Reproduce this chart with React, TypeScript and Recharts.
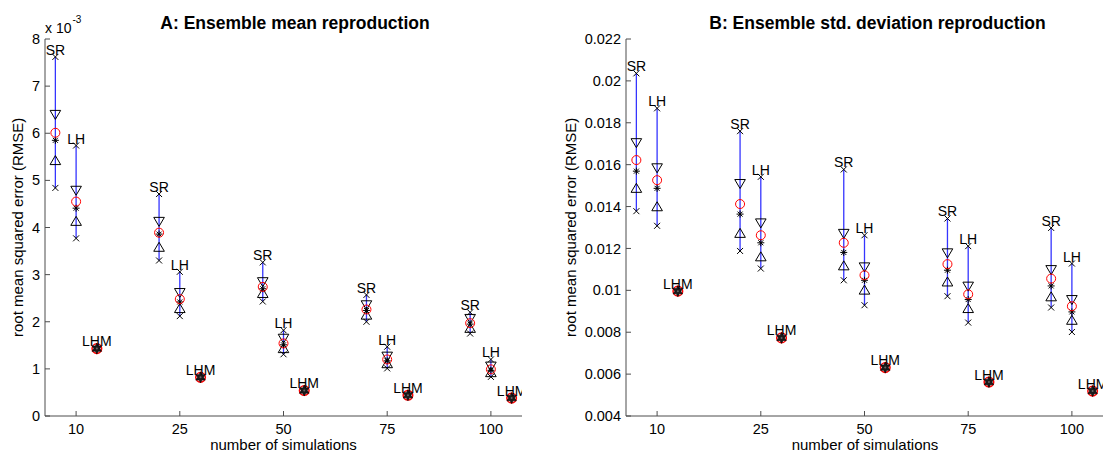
import React from 'react';
import { ComposedChart, XAxis, YAxis, Scatter, ReferenceLine } from 'recharts';

const groups = ['10', '25', '50', '75', '100'];

// panel A: ensemble mean RMSE, in units of 1e-3
const aSrMax = [7.62, 4.71, 3.26, 2.57, 2.2];
const aSrUpper = [6.4, 4.13, 2.85, 2.36, 2.07];
const aSrMean = [6.01, 3.89, 2.74, 2.26, 1.97];
const aSrMedian = [5.85, 3.86, 2.7, 2.24, 1.95];
const aSrLower = [5.42, 3.58, 2.6, 2.14, 1.86];
const aSrMin = [4.84, 3.3, 2.43, 2.0, 1.75];

const aLhMax = [5.74, 3.06, 1.82, 1.47, 1.2];
const aLhUpper = [4.79, 2.62, 1.65, 1.27, 1.06];
const aLhMean = [4.55, 2.48, 1.54, 1.2, 0.99];
const aLhMedian = [4.41, 2.42, 1.51, 1.17, 0.97];
const aLhLower = [4.13, 2.28, 1.43, 1.11, 0.92];
const aLhMin = [3.77, 2.12, 1.31, 1.01, 0.83];

const aLhm = [1.43, 0.82, 0.54, 0.44, 0.38];

// panel B: ensemble std. deviation RMSE
const bSrMax = [0.02036, 0.0176, 0.01577, 0.01343, 0.01298];
const bSrUpper = [0.01705, 0.0151, 0.01272, 0.01179, 0.01099];
const bSrMean = [0.01622, 0.01412, 0.01227, 0.01125, 0.01056];
const bSrMedian = [0.01569, 0.01364, 0.01181, 0.01096, 0.01021];
const bSrLower = [0.01487, 0.01272, 0.01117, 0.0104, 0.00969];
const bSrMin = [0.01378, 0.01188, 0.01048, 0.00972, 0.00918];

const bLhMax = [0.01869, 0.01542, 0.01263, 0.01211, 0.01128];
const bLhUpper = [0.01585, 0.01322, 0.01112, 0.0102, 0.00956];
const bLhMean = [0.01526, 0.01263, 0.01072, 0.00981, 0.00924];
const bLhMedian = [0.01487, 0.01227, 0.01048, 0.00956, 0.00897];
const bLhLower = [0.01399, 0.0116, 0.01001, 0.00913, 0.00857];
const bLhMin = [0.01308, 0.01104, 0.00929, 0.00846, 0.00801];

const bLhm = [0.00996, 0.00773, 0.00631, 0.00562, 0.00519];

const aTicks = [0, 1, 2, 3, 4, 5, 6, 7, 8];
const bTicks = [0.004, 0.006, 0.008, 0.01, 0.012, 0.014, 0.016, 0.018, 0.02, 0.022];

const FONT = '"Liberation Sans", Arial, Helvetica, sans-serif';
const AXIS = '#4d4d4d';
const BLUE = '#3535ff';

type Stats = { max: number[]; upper: number[]; mean: number[]; median: number[]; lower: number[]; min: number[] };

const pts = (vals: number[], off: number, name = '') =>
  vals.map((y, i) => ({ x: i + 1 + off, y, name }));

// marker shapes (matlab style)
const XMark = ({ cx, cy, payload }: any) => (
  <g>
    <path d={`M${cx - 3},${cy - 3}L${cx + 3},${cy + 3}M${cx - 3},${cy + 3}L${cx + 3},${cy - 3}`} stroke="#000" strokeWidth={1} />
    {payload?.name ? (
      <text x={cx} y={cy - 2} textAnchor="middle" fontSize={14} fontFamily={FONT} fill="#000">
        {payload.name}
      </text>
    ) : null}
  </g>
);
const TriDown = ({ cx, cy }: any) => (
  <path d={`M${cx - 5.3},${cy - 4}L${cx + 5.3},${cy - 4}L${cx},${cy + 5}Z`} fill="none" stroke="#000" strokeWidth={1} />
);
const TriUp = ({ cx, cy }: any) => (
  <path d={`M${cx - 5.3},${cy + 4}L${cx + 5.3},${cy + 4}L${cx},${cy - 5}Z`} fill="none" stroke="#000" strokeWidth={1} />
);
const Ring = ({ cx, cy }: any) => <circle cx={cx} cy={cy} r={4.5} fill="none" stroke="#ff0000" strokeWidth={1} />;
const Star = ({ cx, cy }: any) => (
  <path
    d={`M${cx - 3.5},${cy}L${cx + 3.5},${cy}M${cx},${cy - 3.5}L${cx},${cy + 3.5}M${cx - 2.5},${cy - 2.5}L${cx + 2.5},${cy + 2.5}M${cx - 2.5},${cy + 2.5}L${cx + 2.5},${cy - 2.5}`}
    stroke="#000"
    strokeWidth={1}
  />
);
const Hexa = ({ cx, cy, payload }: any) => {
  let d = '';
  for (let k = 0; k < 12; k++) {
    const r = k % 2 === 0 ? 5.5 : 3;
    const a = (Math.PI / 6) * k - Math.PI / 2;
    d += `${k === 0 ? 'M' : 'L'}${cx + r * Math.cos(a)},${cy + r * Math.sin(a)}`;
  }
  return (
    <g>
      <circle cx={cx} cy={cy} r={4.8} fill="none" stroke="#ff0000" strokeWidth={1.5} />
      <path d={d + 'Z'} fill="#1a1a1a" stroke="#000" strokeWidth={0.6} />
      <circle cx={cx} cy={cy} r={1} fill="#666" />
      <text x={cx} y={cy - 2.5} textAnchor="middle" fontSize={14} fontFamily={FONT} fill="#000">
        {payload.name}
      </text>
    </g>
  );
};

function Panel({ sr, lh, lhm, ticks, fmt, yAxisWidth, marginRight }: {
  sr: Stats; lh: Stats; lhm: number[]; ticks: number[]; fmt: (v: number) => string; yAxisWidth: number; marginRight: number;
}) {
  const segs = [
    ...sr.min.map((v, i) => ({ x: i + 1 - 0.2, lo: v, hi: sr.max[i] })),
    ...lh.min.map((v, i) => ({ x: i + 1, lo: v, hi: lh.max[i] })),
  ];
  const series = (s: Stats, off: number, name: string) => [
    <Scatter key={name + 'max'} data={pts(s.max, off, name)} shape={XMark} isAnimationActive={false} />,
    <Scatter key={name + 'min'} data={pts(s.min, off)} shape={XMark} isAnimationActive={false} />,
    <Scatter key={name + 'up'} data={pts(s.upper, off)} shape={TriDown} isAnimationActive={false} />,
    <Scatter key={name + 'lo'} data={pts(s.lower, off)} shape={TriUp} isAnimationActive={false} />,
    <Scatter key={name + 'med'} data={pts(s.median, off)} shape={Star} isAnimationActive={false} />,
    <Scatter key={name + 'mean'} data={pts(s.mean, off)} shape={Ring} isAnimationActive={false} />,
  ];
  return (
    <ComposedChart width={553} height={452} margin={{ top: 39, right: marginRight, bottom: 0, left: 0 }}>
      <XAxis
        type="number"
        dataKey="x"
        domain={[0.7, 5.3]}
        allowDataOverflow
        ticks={[1, 2, 3, 4, 5]}
        height={36}
        tickSize={0}
        tickMargin={8}
        tickLine={false}
        axisLine={{ stroke: AXIS }}
        tick={({ x, y, payload }: any) => (
          <g>
            <line x1={x} y1={y - 8} x2={x} y2={y - 13} stroke={AXIS} />
            <text x={x} y={y} dy={10} textAnchor="middle" fontSize={14.5} fontFamily={FONT} fill="#000">
              {groups[payload.value - 1]}
            </text>
          </g>
        )}
      />
      <YAxis
        type="number"
        dataKey="y"
        domain={[ticks[0], ticks[ticks.length - 1]]}
        allowDataOverflow
        ticks={ticks}
        width={yAxisWidth}
        tickSize={0}
        tickMargin={5}
        tickLine={false}
        axisLine={{ stroke: AXIS }}
        tick={({ x, y, payload }: any) => (
          <g>
            <line x1={x + 5} y1={y} x2={x + 10} y2={y} stroke={AXIS} />
            <text x={x} y={y} dy="0.35em" textAnchor="end" fontSize={14.5} fontFamily={FONT} fill="#000">
              {fmt(payload.value)}
            </text>
          </g>
        )}
      />
      {segs.map((s, i) => (
        <ReferenceLine
          key={'seg' + i}
          segment={[{ x: s.x, y: s.lo }, { x: s.x, y: s.hi }]}
          stroke={BLUE}
          strokeWidth={1.3}
        />
      ))}
      {series(sr, -0.2, 'SR')}
      {series(lh, 0, 'LH')}
      <Scatter data={pts(lhm, 0.2, 'LHM')} shape={Hexa} isAnimationActive={false} />
    </ComposedChart>
  );
}

export default function App() {
  const aSr = { max: aSrMax, upper: aSrUpper, mean: aSrMean, median: aSrMedian, lower: aSrLower, min: aSrMin };
  const aLh = { max: aLhMax, upper: aLhUpper, mean: aLhMean, median: aLhMedian, lower: aLhLower, min: aLhMin };
  const bSr = { max: bSrMax, upper: bSrUpper, mean: bSrMean, median: bSrMedian, lower: bSrLower, min: bSrMin };
  const bLh = { max: bLhMax, upper: bLhUpper, mean: bLhMean, median: bLhMedian, lower: bLhLower, min: bLhMin };
  return (
    <div style={{ position: 'absolute', left: 0, top: 0, width: 1106, height: 452, background: '#fff', fontFamily: FONT }}>
      <div style={{ position: 'absolute', left: 0, top: 0 }}>
        <Panel sr={aSr} lh={aLh} lhm={aLhm} ticks={aTicks} fmt={(v) => String(v)} yAxisWidth={45} marginRight={31} />
      </div>
      <div style={{ position: 'absolute', left: 553, top: 0 }}>
        <Panel sr={bSr} lh={bLh} lhm={bLhm} ticks={bTicks} fmt={(v) => String(parseFloat(v.toFixed(3)))} yAxisWidth={73} marginRight={3} />
      </div>
      <svg width={1106} height={452} style={{ position: 'absolute', left: 0, top: 0, pointerEvents: 'none' }}>
        <g fontFamily={FONT} fill="#000">
          <text x={295} y={28.5} textAnchor="middle" fontSize={17.5} fontWeight="bold">A: Ensemble mean reproduction</text>
          <text x={877.5} y={28.5} textAnchor="middle" fontSize={17.5} fontWeight="bold">B: Ensemble std. deviation reproduction</text>
          <text x={45} y={33.3} fontSize={14}>x 10</text>
          <text x={72.5} y={23} fontSize={10}>-3</text>
          <text transform="translate(23,227.4) rotate(-90)" textAnchor="middle" fontSize={15}>root mean squared error (RMSE)</text>
          <text transform="translate(576,227.4) rotate(-90)" textAnchor="middle" fontSize={15}>root mean squared error (RMSE)</text>
          <text x={283.5} y={449.5} textAnchor="middle" fontSize={15}>number of simulations</text>
          <text x={865} y={449.5} textAnchor="middle" fontSize={15}>number of simulations</text>
        </g>
      </svg>
    </div>
  );
}
